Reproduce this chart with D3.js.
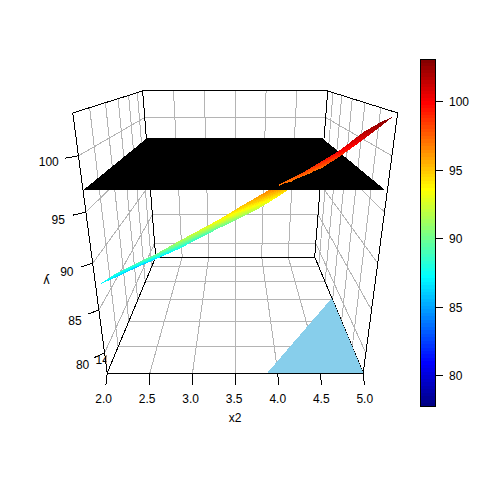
<!DOCTYPE html>
<html><head><meta charset="utf-8">
<script src="https://cdn.jsdelivr.net/npm/d3@7"></script>
<style>html,body{margin:0;background:#fff}svg{display:block}text{font-family:"Liberation Sans",Arial,sans-serif;font-size:12px;fill:#000}</style>
</head><body><svg id="c" width="480" height="480"></svg>
<script>
const x2Ticks=[2.0,2.5,3.0,3.5,4.0,4.5,5.0];
const x1Ticks=[14,16,18,20,22];
const yTicks=[80,85,90,95,100];
const barTicks=[80,85,90,95,100];
const jetColors=["#00007F","#0000FF","#007FFF","#00FFFF","#7FFF7F","#FFFF00","#FF7F00","#FF0000","#7F0000"];
const planeLevel=97;
const planeX2=[2.0,4.98];
// Upper edge of the response surface
const upperX2=[2.00,2.18,2.41,2.64,2.92,3.13,3.34,3.55,3.73,3.90,4.03,4.18,4.34,4.52,4.74,4.89,5.00];
const upperX1=[12.74,12.74,12.74,12.74,12.74,12.74,12.74,12.74,12.74,12.74,12.74,12.74,12.74,12.74,12.74,12.74,12.68];
const upperY=[87.2,88.3,89.4,90.4,91.85,92.9,93.95,95.13,96.1,97.0,97.6,98.3,99.2,100.2,101.8,102.6,103.1];
// Lower edge of the response surface
const lowerX2=[2.00,2.05,2.20,2.44,2.78,3.04,3.30,3.57,3.79,4.00,4.15,4.34,4.51,4.69,4.88,4.92,5.00];
const lowerX1=[12.74,14.18,15.44,15.96,15.87,16.19,16.43,16.65,16.19,15.85,15.79,15.99,15.47,15.01,14.30,12.94,12.68];
const lowerY=[87.2,86.0,85.5,86.0,87.5,88.5,89.5,90.5,92.0,93.5,94.5,95.5,97.0,98.5,100.5,102.2,103.1];
// Feasible region on the floor
const regionX2=[3.875,5.0,5.0];
const regionX1=[12.3,12.3,18.2];

const svg=d3.select("#c");
const xS=d3.scaleLinear([2,5],[0,1]);
const zS=d3.scaleLinear([12.3,23.4],[0,1]);
const yS=d3.scaleLinear([77.5,103.5],[0,1]);
// perspective view of the box
function P(x2,x1,y){
  const u=xS(x2),v=zS(x1),w=yS(y),k=v*Math.pow(Math.max(w,0),8);
  const D=1+0.61*v-0.212*w-0.015*k;
  return [235.2+256*(u-0.5)/D,(373+40.8*v-284*w-4*k)/D];
}
const [x2a,x2b]=xS.domain(),[x1a,x1b]=zS.domain(),[ya,yb]=yS.domain();
const path=d3.line();
const ln=(g,pts,col,w)=>g.append("path").attr("d",path(pts)).attr("fill","none").attr("stroke",col).attr("stroke-width",w||1).attr("shape-rendering","crispEdges");
const poly=(g,pts,col)=>g.append("path").attr("d",path(pts)+"Z").attr("fill",col).attr("shape-rendering","crispEdges");

const jet=d3.scaleLinear(d3.range(jetColors.length).map(i=>i/(jetColors.length-1)),jetColors).interpolate(d3.interpolateRgb);
const cDom=[77.8,103.1];
const nCol=100;
const bucket=v=>Math.max(0,Math.min(nCol-1,Math.floor((v-cDom[0])/(cDom[1]-cDom[0])*nCol)));
const colorOf=v=>jet((bucket(v)+0.5)/nCol);

// grid
const grid=svg.append("g");
const G="#B4B4B4";
x2Ticks.slice(1,-1).forEach(t=>{
  ln(grid,[P(t,x1a,ya),P(t,x1b,ya)],G);
  ln(grid,[P(t,x1b,ya),P(t,x1b,yb)],G);
});
x1Ticks.forEach(t=>{
  ln(grid,[P(x2a,t,ya),P(x2b,t,ya)],G);
  ln(grid,[P(x2a,t,ya),P(x2a,t,yb)],G);
  ln(grid,[P(x2b,t,ya),P(x2b,t,yb)],G);
});
yTicks.forEach(t=>{
  ln(grid,[P(x2a,x1a,t),P(x2a,x1b,t),P(x2b,x1b,t),P(x2b,x1a,t)],G);
});

// box
const box=svg.append("g");
const K="#000";
ln(box,[P(x2a,x1b,ya),P(x2b,x1b,ya),P(x2b,x1b,yb),P(x2a,x1b,yb),P(x2a,x1b,ya)],K);
ln(box,[P(x2a,x1a,yb),P(x2a,x1b,yb)],K);
ln(box,[P(x2b,x1a,yb),P(x2b,x1b,yb)],K);
ln(box,[P(x2a,x1a,ya),P(x2a,x1a,yb)],K);
ln(box,[P(x2b,x1a,ya),P(x2b,x1a,yb)],K);
ln(box,[P(x2a,x1a,ya),P(x2a,x1b,ya)],K);
ln(box,[P(x2b,x1a,ya),P(x2b,x1b,ya)],K);

// feasible region
poly(svg.append("g"),regionX2.map((d,i)=>P(d,regionX1[i],ya)),"#87CEEB");
ln(svg.append("g"),[P(x2a,x1a,ya),P(x2b,x1a,ya)],K);

// surface mesh cells
const along=6,across=10,cells=[];
const mix=(a,b,t)=>a+(b-a)*t;
for(let i=0;i<upperY.length-1;i++)for(let a=0;a<along;a++)for(let b=0;b<across;b++){
  const pt=(s,t)=>{
    const f=(U,L)=>mix(mix(U[i],U[i+1],s),mix(L[i],L[i+1],s),t);
    return [f(upperX2,lowerX2),f(upperX1,lowerX1),f(upperY,lowerY)];
  };
  const q=[pt(a/along,b/across),pt((a+1)/along,b/across),pt((a+1)/along,(b+1)/across),pt(a/along,(b+1)/across)];
  cells.push({q,val:d3.mean(q,d=>d[2])});
}
const drawCells=list=>{const g=svg.append("g");list.forEach(c=>poly(g,c.q.map(d=>P(d[0],d[1],d[2])),colorOf(c.val)));};
drawCells(cells.filter(c=>c.val<planeLevel));
poly(svg.append("g"),[P(planeX2[0],x1a,planeLevel),P(planeX2[1],x1a,planeLevel),P(planeX2[1],x1b,planeLevel),P(planeX2[0],x1b,planeLevel)],"#000");
drawCells(cells.filter(c=>c.val>=planeLevel));

// axes
const ax=svg.append("g");
x2Ticks.forEach(t=>{
  const p=P(t,x1a,ya),dx=(p[0]-235.2)*0.01;
  ln(ax,[p,[p[0]+dx,p[1]+12]],K);
  ax.append("text").attr("x",p[0]+dx*2-1).attr("y",403).attr("text-anchor","middle").text(d3.format(".1f")(t));
});
ax.append("text").attr("x",235).attr("y",422).attr("text-anchor","middle").text("x2");
yTicks.forEach(t=>{
  const p=P(x2a,x1a,t),w=yS(t);
  ln(ax,[p,[p[0]-10-4*w,p[1]+5-3*w]],K);
  ax.append("text").attr("x",p[0]-21-10*w).attr("y",p[1]+17-8*w).attr("text-anchor","middle").text(t);
});
const yl=P(x2a,x1a,88.5);
ax.append("text").attr("transform",`translate(${yl[0]-48},${yl[1]-1}) rotate(180)`).attr("text-anchor","middle").text("y");
svg.append("clipPath").attr("id","cl").append("rect").attr("x",80).attr("y",340).attr("width",26.5).attr("height",40);
const t14=P(x2a,x1Ticks[0],ya);
ax.append("text").attr("clip-path","url(#cl)").attr("x",t14[0]-16).attr("y",t14[1]+17).attr("text-anchor","middle").text(x1Ticks[0]);

// colour bar
const bar=svg.append("g");
const bS=d3.scaleLinear(cDom,[406,59]);
d3.range(nCol).forEach(i=>{
  const v0=cDom[0]+(cDom[1]-cDom[0])*i/nCol,v1=cDom[0]+(cDom[1]-cDom[0])*(i+1)/nCol;
  bar.append("rect").attr("x",421).attr("width",15).attr("y",bS(v1)).attr("height",bS(v0)-bS(v1)+0.5).attr("fill",jet((i+0.5)/nCol)).attr("shape-rendering","crispEdges");
});
bar.append("rect").attr("x",420.5).attr("y",59).attr("width",15).attr("height",347).attr("fill","none").attr("stroke","#000").attr("shape-rendering","crispEdges");
barTicks.forEach(t=>{
  const y=bS(t);
  ln(bar,[[435.5,y],[443,y]],K);
  bar.append("text").attr("x",449).attr("y",y+4.5).text(t);
});
</script></body></html>
